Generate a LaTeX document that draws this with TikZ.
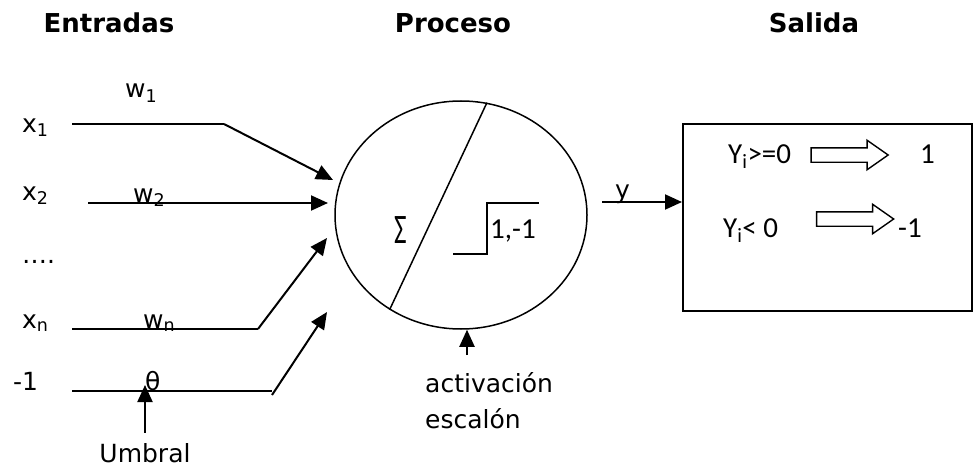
\documentclass[tikz,border=0pt]{standalone}
\usepackage{fontspec}
\setmainfont{DejaVu Sans}
\newfontfamily\calibrifont{Carlito}
\usetikzlibrary{arrows.meta, positioning, calc, shapes.geometric, shapes.arrows}

\begin{document}
\begin{tikzpicture}[x=1pt, y=-1pt,
  lbl/.style={font=\fontsize{25}{36}\selectfont, inner sep=0pt, anchor=base west},
  ttl/.style={font=\fontsize{26}{30}\selectfont\bfseries, inner sep=0pt, anchor=base},
  cal/.style={font=\fontsize{29}{34}\calibrifont, inner sep=0pt, anchor=base west},
  wire/.style={line width=2pt},
  arr/.style={line width=2pt, -{Triangle[length=17pt, width=15pt]}},
  fat/.style={single arrow, draw, line width=1.4pt, single arrow tip angle=70,
    single arrow head extend=7.5pt, inner xsep=0pt, inner ysep=6.5pt, minimum height=77pt}]
  \useasboundingbox (0,0) rectangle (974,468);

  % Titulos
  \node[ttl] (entradas) at (109,33) {Entradas};
  \node[ttl] (proceso) at (453,33) {Proceso};
  \node[ttl] (salida) at (814,33) {Salida};

  % Entradas y pesos
  \node[lbl] (x1) at (22,132) {x\textsubscript{1}};
  \node[lbl] (w1) at (125,98) {w\textsubscript{1}};
  \node[lbl] (x2) at (22,200) {x\textsubscript{2}};
  \node[lbl] (w2) at (133,202) {w\textsubscript{2}};
  \node[lbl] (dots) at (22,263) {….};
  \node[lbl] (xn) at (22,328) {x\textsubscript{n}};
  \node[lbl] (wn) at (143,328) {w\textsubscript{n}};
  \node[lbl] (menos) at (13,390) {-1};
  \node[lbl] (theta) at (145,390) {θ};
  \node[lbl, anchor=base] (umbral) at (145,462) {Umbral};

  \coordinate (s1) at (72,124);  \coordinate (b1) at (224,124); \coordinate (t1) at (333,180);
  \coordinate (s2) at (88,203);  \coordinate (t2) at (328,203);
  \coordinate (sn) at (72,329);  \coordinate (bn) at (258,329); \coordinate (tn) at (327,238);
  \coordinate (s0) at (72,391);  \coordinate (b0) at (272,391);
  \coordinate (c0) at (272,395); \coordinate (t0) at (327,312);

  \draw[wire] (s1) -- (b1);
  \draw[arr] (b1) -- (t1);
  \draw[arr] (s2) -- (t2);
  \draw[wire] (sn) -- (bn);
  \draw[arr] (bn) -- (tn);
  \draw[wire] (s0) -- (b0);
  \draw[arr] (c0) -- (t0);
  \draw[arr] ([yshift=10pt]umbral.north) -- ([yshift=10pt]umbral.north |- c0);

  % Neurona
  \node[draw, ellipse, line width=1.5pt, minimum width=252pt, minimum height=228pt] (neuron) at (461,215) {};
  \draw[line width=1.5pt] (neuron.77) -- (neuron.233);
  \node[cal, anchor=base, font=\fontsize{42}{44}\calibrifont] (sigma) at (401,243) {\scalebox{0.65}[1]{Σ}};
  \draw[line width=1.5pt] (453,254) -- (487,254) -- (487,203) -- (539,203);
  \node[cal] (escalon) at (490,238) {1,-1};

  \node[lbl, align=left] (act) at (425,428) {activación\\escalón};
  \coordinate (ab) at (467,355);
  \draw[arr] (ab) -- (ab |- neuron.south);

  % Salida
  \node[draw, line width=2pt, minimum width=289pt, minimum height=187pt] (box) at (827.5,217.5) {};
  \coordinate (yo) at (602,202);
  \draw[arr] (yo) -- (yo -| box.west);
  \node[lbl] (ylbl) at (615,198) {y};

  \node[cal] (pos) at (728,163) {Y\textsubscript{i}>=0};
  \node[fat] (imp1) at (844.5,155) {};
  \node[cal] (uno) at (920,163) {1};
  \node[cal] (neg) at (723,237) {Y\textsubscript{i}< 0};
  \node[fat] (imp2) at (850,219) {};
  \node[cal] (menosuno) at (898,237) {-1};
\end{tikzpicture}
\end{document}
